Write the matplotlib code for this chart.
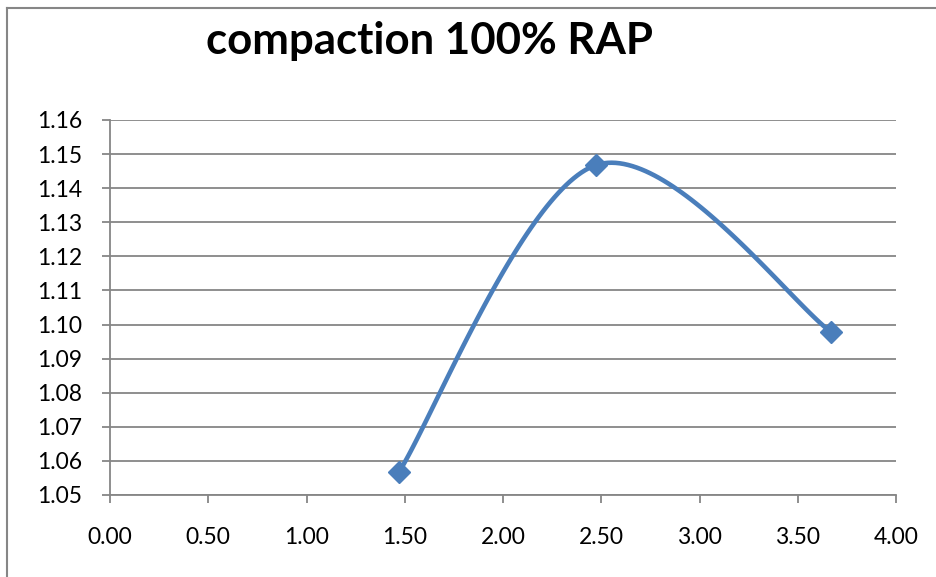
import numpy as np
import matplotlib.pyplot as plt
from matplotlib.lines import Line2D

# measured points
x_pts = [1.47, 2.475, 3.67]
y_pts = [1.0567, 1.1468, 1.0978]

x_ticks = [0.0, 0.5, 1.0, 1.5, 2.0, 2.5, 3.0, 3.5, 4.0]
y_ticks = [1.05, 1.06, 1.07, 1.08, 1.09, 1.10, 1.11, 1.12, 1.13, 1.14, 1.15, 1.16]

xlim = (0.0, 4.0)
ylim = (1.05, 1.16)

plt.rcParams['font.family'] = ['Lato', 'DejaVu Sans']

fig = plt.figure(figsize=(9.36, 5.77), dpi=100)
ax = fig.add_axes([110 / 936, 1 - 495 / 577, 786 / 936, 375 / 577])


def smooth_curve(xs, ys, n=60):
    # excel-style smoothed line: cubic bezier with catmull-rom control points,
    # computed in pixel space so the shape follows the plot aspect
    w, h = 786.0, 375.0
    px = (np.asarray(xs) - xlim[0]) / (xlim[1] - xlim[0]) * w
    py = (np.asarray(ys) - ylim[0]) / (ylim[1] - ylim[0]) * h
    P = np.column_stack([px, py])
    m = len(P)
    out = []
    t = np.linspace(0, 1, n)[:, None]
    for i in range(m - 1):
        p0 = P[i - 1] if i > 0 else P[i]
        p1 = P[i]
        p2 = P[i + 1]
        p3 = P[i + 2] if i + 2 < m else P[i + 1]
        c1 = p1 + (p2 - p0) / 6.0
        c2 = p2 - (p3 - p1) / 6.0
        seg = ((1 - t) ** 3) * p1 + 3 * ((1 - t) ** 2) * t * c1 + 3 * (1 - t) * t ** 2 * c2 + t ** 3 * p2
        out.append(seg)
    seg = np.vstack(out)
    sx = seg[:, 0] / w * (xlim[1] - xlim[0]) + xlim[0]
    sy = seg[:, 1] / h * (ylim[1] - ylim[0]) + ylim[0]
    return sx, sy


sx, sy = smooth_curve(x_pts, y_pts)
blue = '#4A7EBB'
ax.plot(sx, sy, color=blue, lw=3.3, solid_capstyle='round', zorder=3)
ax.plot(x_pts, y_pts, linestyle='none', marker='D', markersize=11.5,
        color=blue, zorder=4, clip_on=False)

ax.set_xlim(*xlim)
ax.set_ylim(*ylim)
ax.set_xticks(x_ticks)
ax.set_yticks(y_ticks)
ax.set_xticklabels(['%.2f' % v for v in x_ticks])
ax.set_yticklabels(['%.2f' % v for v in y_ticks])

grid_c = '#868686'
ax.grid(axis='y', color=grid_c, lw=1.3)
ax.set_axisbelow(True)
for s in ['top', 'right']:
    ax.spines[s].set_visible(False)
for s in ['left', 'bottom']:
    ax.spines[s].set_color(grid_c)
    ax.spines[s].set_linewidth(1.3)
ax.tick_params(axis='both', direction='out', length=6, width=1.3, color=grid_c,
               labelsize=16.5, labelcolor='black')
ax.tick_params(axis='x', pad=17)
ax.tick_params(axis='y', pad=14)

fig.text(430 / 936, 1 - 54 / 577, 'compaction 100% RAP', ha='center', va='baseline',
         fontsize=31.5, fontweight='bold')

# chart area border (top and left edges)
fig.add_artist(Line2D([7 / 936, 1.0], [1 - 8 / 577, 1 - 8 / 577], color=grid_c, lw=1.5))
fig.add_artist(Line2D([7 / 936, 7 / 936], [0.0, 1 - 8 / 577], color=grid_c, lw=1.5))

fig.savefig('out.png', dpi=100)
